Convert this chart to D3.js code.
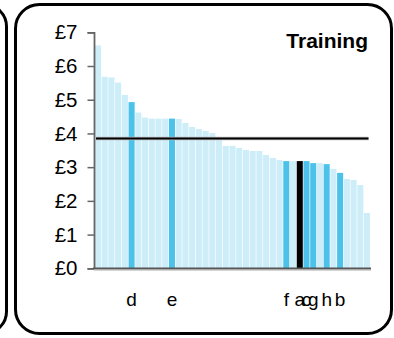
<!DOCTYPE html>
<html><head><meta charset="utf-8">
<script src="https://cdn.jsdelivr.net/npm/d3@7"></script>
<style>html,body{margin:0;padding:0;background:#fff;}svg{display:block;}</style>
</head><body>
<svg id="chart" width="394" height="338"></svg>
<script>
const title = "Training";
const values = [6.61,5.68,5.66,5.51,5.14,4.93,4.62,4.47,4.44,4.44,4.44,4.44,4.43,4.31,4.19,4.13,4.07,4.01,3.80,3.63,3.63,3.57,3.51,3.48,3.48,3.36,3.27,3.21,3.18,3.18,3.18,3.18,3.12,3.12,3.09,2.95,2.83,2.65,2.62,2.47,1.64];
const labels = ["","","","","","d","","","","","","e","","","","","","","","","","","","","","","","","f","","a","c","g","","h","","b","","","",""];
const groups = ["o","o","o","o","o","h","o","o","o","o","o","h","o","o","o","o","o","o","o","o","o","o","o","o","o","o","o","o","h","o","k","h","h","o","h","o","h","o","o","o","o"];
const average = 3.85;
const yTicks = [0,1,2,3,4,5,6,7];
const yTickLabels = ["£0","£1","£2","£3","£4","£5","£6","£7"];

const colors = {o:"#cdedf9", h:"#4cc2eb", k:"#000000"};
const svg = d3.select("#chart");
const font = "'Liberation Sans', Arial, sans-serif";

// frames
svg.append("rect").attr("x",-300).attr("y",4.5).attr("width",306.5).attr("height",329)
  .attr("rx",22).attr("fill","none").attr("stroke","#000").attr("stroke-width",3);
svg.append("rect").attr("x",15.5).attr("y",4.5).attr("width",376).attr("height",329)
  .attr("rx",24).attr("fill","none").attr("stroke","#000").attr("stroke-width",3);

const idx = d3.range(values.length);
const x = d3.scaleBand().domain(idx).range([94.6,370.4]).paddingInner(0.1).paddingOuter(0.05);
const y = d3.scaleLinear().domain([0,7]).range([268.3,32.3]);

// bars
svg.append("g").selectAll("rect").data(idx).join("rect")
  .attr("x", i => x(i)).attr("width", x.bandwidth())
  .attr("y", i => y(values[i])).attr("height", i => y(0) - y(values[i]))
  .attr("fill", i => colors[groups[i]]);

// average line
svg.append("line").attr("x1",96).attr("x2",368.5).attr("y1",y(average)).attr("y2",y(average))
  .attr("stroke","#bbb").attr("stroke-width",3.5);
svg.append("line").attr("x1",96).attr("x2",368.5).attr("y1",y(average)).attr("y2",y(average))
  .attr("stroke","#000").attr("stroke-width",2);

// y axis
const yAxis = d3.axisLeft(y).tickValues(yTicks).tickFormat((d,i)=>yTickLabels[i]).tickSize(6.5).tickPadding(10);
const ga = svg.append("g").attr("transform","translate(94,0)").call(yAxis);
ga.select(".domain").attr("stroke","#666").attr("stroke-width",1.8);
ga.selectAll(".tick line").attr("stroke","#666").attr("stroke-width",1.5);
ga.selectAll(".tick text").attr("font-family",font).attr("font-size",20.5).attr("fill","#000");

// baseline
svg.append("line").attr("x1",94).attr("x2",371).attr("y1",y(0)+1.5).attr("y2",y(0)+1.5)
  .attr("stroke","#aaa").attr("stroke-width",1.5);
svg.append("line").attr("x1",93).attr("x2",371).attr("y1",y(0)).attr("y2",y(0))
  .attr("stroke","#555").attr("stroke-width",1.5);

// category labels
svg.append("g").selectAll("text").data(idx.filter(i=>labels[i])).join("text")
  .attr("x", i => x(i) + x.bandwidth()/2).attr("y", 306)
  .attr("text-anchor","middle").attr("font-family",font).attr("font-size",19)
  .text(i => labels[i]);

// title
svg.append("text").attr("x",368).attr("y",47.5).attr("text-anchor","end")
  .attr("font-family",font).attr("font-weight","bold").attr("font-size",21).text(title);
</script>
</body></html>
